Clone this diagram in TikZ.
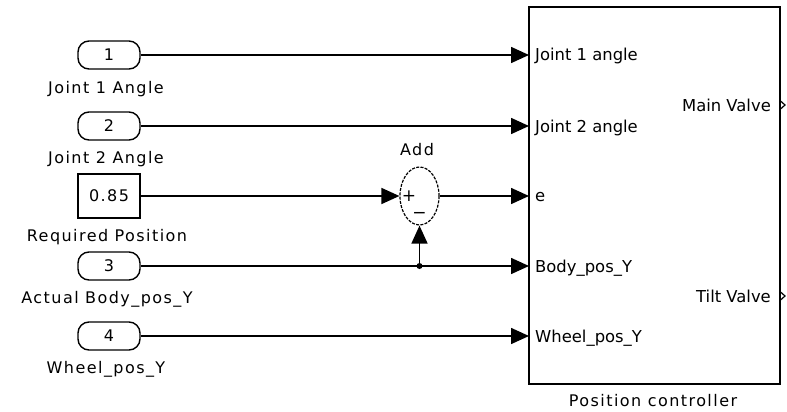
\documentclass[tikz,border=0pt]{standalone}
\usepackage{fontspec}
\setmainfont{DejaVu Sans}
\newfontfamily\spacedfont[LetterSpace=9]{DejaVu Sans}
\usetikzlibrary{arrows.meta,shapes.geometric}
\begin{document}
\begin{tikzpicture}[x=1pt,y=-1pt,
  wire/.style={line width=1.6pt},
  sig/.style={wire,-{Triangle[length=18pt,width=16pt]}},
  blkfont/.style={font=\spacedfont\fontsize{16}{18}\selectfont},
  inport/.style={draw,line width=1.4pt,rounded corners=11pt,minimum width=62pt,
    minimum height=28pt,inner sep=0pt,blkfont},
  constblk/.style={draw,line width=1.4pt,minimum width=62pt,minimum height=44pt,
    inner sep=0pt,blkfont},
  sumblk/.style={ellipse,draw,line width=1.2pt,dash pattern=on 3pt off 1.3pt,
    minimum width=39pt,minimum height=58pt,inner sep=0pt},
  blklabel/.style={anchor=base,blkfont},
  portlabel/.style={anchor=base west,inner sep=0pt,font=\fontsize{16.4}{18}\selectfont},
  outlabel/.style={anchor=base east,inner sep=0pt,font=\fontsize{16.4}{18}\selectfont},
  signfont/.style={inner sep=0pt,font=\fontsize{17}{18}\selectfont}
]
\useasboundingbox (0,0) rectangle (787,412);

% source blocks
\node[inport]   (in1) at (109,55)  {1};
\node[inport]   (in2) at (109,126) {2};
\node[constblk] (k)   at (109,196) {0.85};
\node[inport]   (in3) at (109,266) {3};
\node[inport]   (in4) at (109,336) {4};

\node[blklabel] (l1) at (106,93)  {Joint 1 Angle};
\node[blklabel] (l2) at (106,163) {Joint 2 Angle};
\node[blklabel] (lk) at (107,241) {Required Position};
\node[blklabel] (l3) at (107,303) {Actual Body\_pos\_Y};
\node[blklabel] (l4) at (106,373) {Wheel\_pos\_Y};

% sum block
\node[sumblk] (add) at (419.5,196) {};
\node[signfont] (plus)  at (409,196) {+};
\node[signfont] (minus) at (419.5,215) {\textminus};
\node[blklabel] (addl) at (417,155) {Add};

% controller subsystem
\node[draw,line width=1.6pt,minimum width=251pt,minimum height=377pt,inner sep=0pt]
  (ctrl) at (654.5,195.5) {};
\node[blklabel] (ctrll) at (653,406) {Position controller};

\coordinate (p1) at (529,55);
\coordinate (p2) at (529,126);
\coordinate (p3) at (529,196);
\coordinate (p4) at (529,266);
\coordinate (p5) at (529,336);
\coordinate (o1) at (780,105);
\coordinate (o2) at (780,296);

\node[portlabel] (t1) at (535,61)  {Joint 1 angle};
\node[portlabel] (t2) at (535,132) {Joint 2 angle};
\node[portlabel] (t3) at (535,201) {e};
\node[portlabel] (t4) at (535,272) {Body\_pos\_Y};
\node[portlabel] (t5) at (535,342) {Wheel\_pos\_Y};
\node[outlabel]  (u1) at (771,111) {Main Valve};
\node[outlabel]  (u2) at (771,302) {Tilt Valve};

% output port markers
\draw[line width=1.2pt] (o1) ++(0,-4.5) -- ++(5,4.5) -- ++(-5,4.5);
\draw[line width=1.2pt] (o2) ++(0,-4.5) -- ++(5,4.5) -- ++(-5,4.5);

% signal lines
\draw[sig] (in1) -- (p1);
\draw[sig] (in2) -- (p2);
\draw[sig] (k) -- (add);
\draw[sig] (add) -- (p3);
\draw[sig] (in3) -- (p4);
\draw[sig] (in4) -- (p5);

% branch to the negative input
\coordinate (j) at (419.5,266);
\fill (j) circle (3pt);
\draw[sig] (j) -- (add.south);
\end{tikzpicture}
\end{document}
